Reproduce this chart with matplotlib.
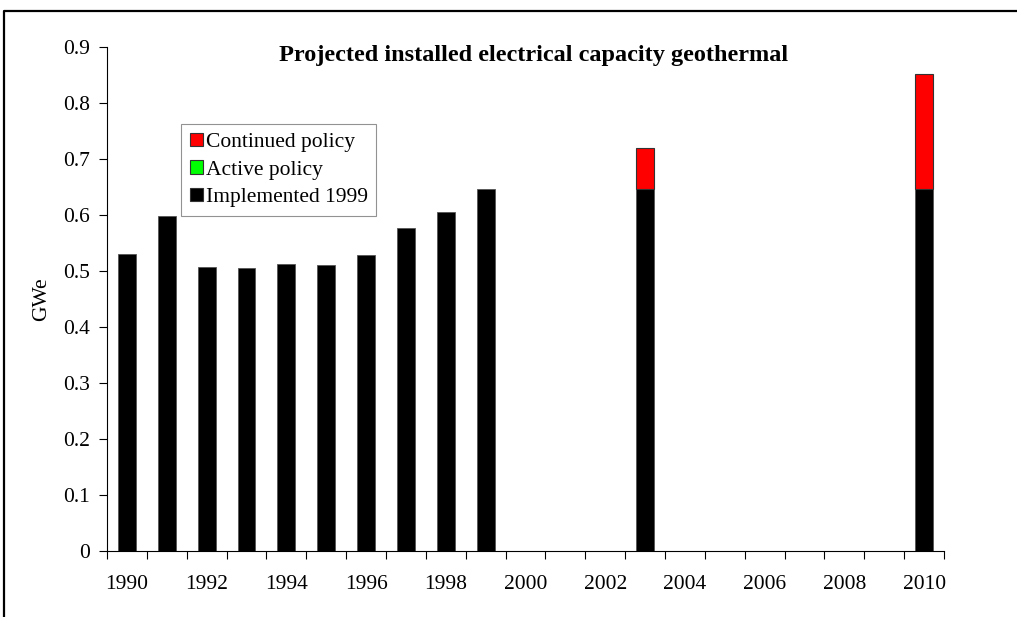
import matplotlib
matplotlib.use("Agg")
import matplotlib.pyplot as plt
from matplotlib.lines import Line2D
import numpy as np

plt.rcParams['font.family'] = ['Liberation Serif', 'DejaVu Serif']

# categories on the x axis
years = list(range(1990, 2011))
# GWe per year (None = no bar)
implemented = [0.530, 0.599, 0.507, 0.505, 0.513, 0.511, 0.529, 0.576, 0.605, 0.646,
               None, None, None, 0.646, None, None, None, None, None, None, 0.646]
active = [None] * 21
continued = [None] * 21
continued[13] = 0.073
continued[20] = 0.206

y_ticks = [0, 0.1, 0.2, 0.3, 0.4, 0.5, 0.6, 0.7, 0.8, 0.9]
y_labels = ["0", "0.1", "0.2", "0.3", "0.4", "0.5", "0.6", "0.7", "0.8", "0.9"]

fs = 15.5
fig = plt.figure(figsize=(10.17, 6.17), dpi=100)
ax = fig.add_axes([107 / 1017, 1 - 551 / 617, (944 - 107) / 1017, (551 - 47) / 617])

x = np.arange(len(years))
bw = 0.45
edge = dict(edgecolor='#555555', linewidth=0.6)

for i in range(len(years)):
    base = 0
    if implemented[i] is not None:
        ax.bar(x[i], implemented[i], bw, color='black', **edge)
        base = implemented[i]
    if active[i] is not None:
        ax.bar(x[i], active[i], bw, bottom=base, color='#00ff00', **edge)
        base += active[i]
    if continued[i] is not None:
        ax.bar(x[i], continued[i], bw, bottom=base, color='red', edgecolor='#333333', linewidth=0.8)

ax.set_xlim(-0.5, len(years) - 0.5)
ax.set_ylim(0, 0.9)

# x ticks at category borders, labels on every other category
ax.set_xticks(np.arange(len(years) + 1) - 0.5)
ax.set_xticklabels([])
ax.set_xticks(x[::2], minor=True)
ax.set_xticklabels([str(y) for y in years[::2]], minor=True)
ax.tick_params(axis='x', which='major', direction='out', length=6, width=0.8)
ax.tick_params(axis='x', which='minor', length=0, pad=17, labelsize=fs)

ax.set_yticks(y_ticks)
ax.set_yticklabels(y_labels)
ax.tick_params(axis='y', direction='out', length=6, width=0.8, labelsize=fs, pad=6)

for s in ['top', 'right']:
    ax.spines[s].set_visible(False)
for s in ['left', 'bottom']:
    ax.spines[s].set_linewidth(0.8)

ax.set_ylabel("GWe", fontsize=fs, labelpad=9)
fig.text(534 / 1017, 1 - 55 / 617, "Projected installed electrical capacity geothermal",
         fontsize=17.5, fontweight='bold', ha='center', va='center')

handles = [plt.Rectangle((0, 0), 1, 1, facecolor='red', edgecolor='#333333', linewidth=0.8),
           plt.Rectangle((0, 0), 1, 1, facecolor='#00ff00', edgecolor='#333333', linewidth=0.8),
           plt.Rectangle((0, 0), 1, 1, facecolor='black', edgecolor='#333333', linewidth=0.8)]
leg = fig.legend(handles, ["Continued policy", "Active policy", "Implemented 1999"],
                 loc='upper left', bbox_to_anchor=(181 / 1017, 1 - 124 / 617),
                 fontsize=fs, frameon=True, fancybox=False, edgecolor='#777777',
                 handlelength=0.6, handleheight=0.6, handletextpad=0.15,
                 borderpad=0.4, labelspacing=0.38, borderaxespad=0)
leg.get_frame().set_linewidth(0.8)

# outer border (top and left visible)
fig.add_artist(Line2D([4 / 1017, 4 / 1017, 1.0], [0, 1 - 11 / 617, 1 - 11 / 617],
                      transform=fig.transFigure, color='black', linewidth=1.6))

fig.savefig("out.png", dpi=100)
